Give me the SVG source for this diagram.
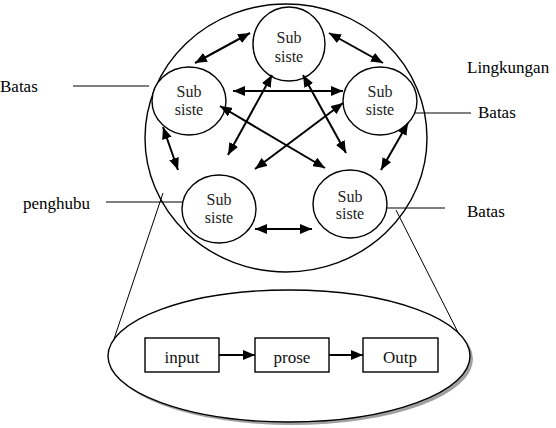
<svg xmlns="http://www.w3.org/2000/svg" width="556" height="428" viewBox="0 0 556 428">
<defs>
<marker id="ah" viewBox="0 0 12 10" refX="12" refY="5" markerWidth="12" markerHeight="10" markerUnits="userSpaceOnUse" orient="auto-start-reverse">
<path d="M0,0 L12,5 L0,10 Z" fill="#000"/>
</marker>
<style>
.sh{fill:#fff;stroke:#000;stroke-width:1.4}
.t{font-family:"Liberation Serif","DejaVu Serif","Times New Roman",serif;font-size:17px;fill:#000}
.tc{font-family:"Liberation Serif","DejaVu Serif","Times New Roman",serif;font-size:16px;fill:#222;text-anchor:middle}
.tb{font-family:"Liberation Serif","DejaVu Serif","Times New Roman",serif;font-size:17px;fill:#111;text-anchor:middle}
.ln{stroke:#000;stroke-width:1;fill:none}
.ar{stroke:#000;stroke-width:2;fill:none;marker-start:url(#ah);marker-end:url(#ah)}
.ar1{stroke:#000;stroke-width:2;fill:none;marker-end:url(#ah)}
</style>
</defs>
<rect width="556" height="428" fill="#fff"/>
<g id="system"><ellipse cx="286" cy="138" rx="141" ry="134" fill="none" stroke="#000" stroke-width="1.4"/></g>
<g id="labels">
<text class="t" x="0" y="92">Batas</text>
<text class="t" x="23" y="209">penghubu</text>
<text class="t" x="467" y="73">Lingkungan</text>
<text class="t" x="478" y="118">Batas</text>
<text class="t" x="467" y="217">Batas</text>
</g>
<g id="leaders">
<line class="ln" x1="73" y1="86" x2="149" y2="86"/>
<line class="ln" x1="106" y1="202" x2="182" y2="202"/>
<line class="ln" x1="412" y1="113" x2="471" y2="113"/>
<line class="ln" x1="387" y1="208" x2="445" y2="208"/>
<line class="ln" x1="163" y1="193" x2="111" y2="348"/>
<line class="ln" x1="396" y1="210" x2="470" y2="356"/>
</g>
<g id="n-top"><ellipse cx="289" cy="44" rx="36" ry="37" class="sh"/><text class="tc" x="289" y="43">Sub</text><text class="tc" x="289" y="62">siste</text></g>
<g id="n-left"><ellipse cx="189" cy="101" rx="37" ry="34" class="sh"/><text class="tc" x="189" y="97">Sub</text><text class="tc" x="189" y="115">siste</text></g>
<g id="n-right"><ellipse cx="380" cy="101" rx="37" ry="34" class="sh"/><text class="tc" x="380" y="97">Sub</text><text class="tc" x="380" y="115">siste</text></g>
<g id="n-bl"><ellipse cx="219" cy="209" rx="37" ry="34" class="sh"/><text class="tc" x="219" y="205">Sub</text><text class="tc" x="219" y="223">siste</text></g>
<g id="n-br"><ellipse cx="350" cy="204" rx="37" ry="34" class="sh"/><text class="tc" x="350" y="202">Sub</text><text class="tc" x="350" y="219">siste</text></g>
<g id="detail">
<ellipse cx="292" cy="359" rx="181" ry="66" fill="#777" opacity="0.7"/>
<ellipse cx="289" cy="356" rx="181" ry="66" class="sh"/>
</g>
<g id="b-input"><rect x="145" y="338" width="74" height="34" class="sh"/><text class="tb" x="182" y="363">input</text></g>
<g id="b-prose"><rect x="255" y="338" width="74" height="34" class="sh"/><text class="tb" x="292" y="363">prose</text></g>
<g id="b-outp"><rect x="363" y="338" width="75" height="34" class="sh"/><text class="tb" x="400" y="363">Outp</text></g>
<g id="connectors">
<line class="ar" x1="195" y1="63" x2="250" y2="33"/>
<line class="ar" x1="329" y1="33" x2="383" y2="63"/>
<line class="ar" x1="233" y1="91" x2="343" y2="91"/>
<line class="ar" x1="220" y1="106" x2="325" y2="168"/>
<line class="ar" x1="343" y1="103" x2="255" y2="169"/>
<line class="ar" x1="272" y1="75" x2="228" y2="155"/>
<line class="ar" x1="303" y1="75" x2="346" y2="153"/>
<line class="ar" x1="163" y1="127" x2="178" y2="170"/>
<line class="ar" x1="408" y1="123" x2="381" y2="170"/>
<line class="ar" x1="255" y1="229" x2="312" y2="229"/>
<line class="ar1" x1="219" y1="355" x2="255" y2="355"/>
<line class="ar1" x1="329" y1="355" x2="363" y2="355"/>
</g>
</svg>
